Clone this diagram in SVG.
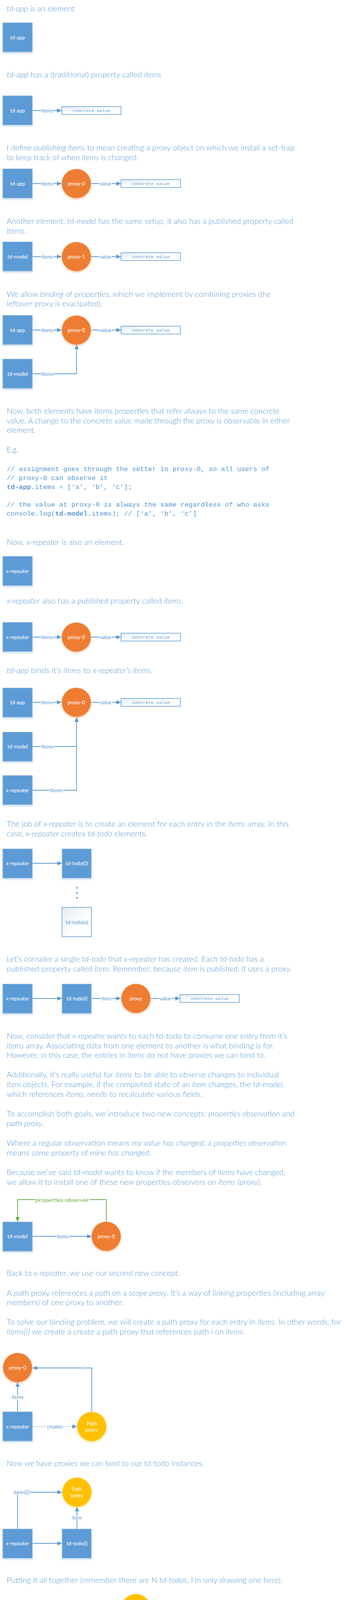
<svg xmlns="http://www.w3.org/2000/svg" width="886" height="4522" viewBox="0 0 886 4522">
<style>
.p{font-family:Lato,"Liberation Sans",sans-serif;font-weight:300;font-size:19px;fill:#5b9bd5}
.i{font-style:italic}
.code{font-family:"Liberation Mono",monospace;font-size:17.25px;fill:#5b9bd5}
.b{font-weight:bold}
.box{fill:#5b9bd5;stroke:#b4cbe6;stroke-width:1;filter:url(#sb)}
.px{fill:#ed7d31;stroke:#f4c4a4;stroke-width:1;filter:url(#so)}
.pp{fill:#ffc000;stroke:#ffe08a;stroke-width:1;filter:url(#sy)}
.cv{fill:url(#gv);stroke:#5b9bd5;stroke-width:1.5}
.tn{fill:url(#gn);stroke:#5b9bd5;stroke-width:1.5}
.n{font-family:Lato,"Liberation Sans",sans-serif;font-size:13px;fill:#fff;text-anchor:middle;dominant-baseline:central}
.nb{fill:#5b9bd5}
.m{font-family:"Liberation Mono",monospace;font-size:11.5px;fill:#5b9bd5;text-anchor:middle;dominant-baseline:central}
.c{fill:none;stroke:#5b9bd5;stroke-width:1.9}
.g{stroke:#70ad47}
.d{stroke-dasharray:2 4}
.l{font-family:Lato,"Liberation Sans",sans-serif;font-size:12.5px;fill:#5b9bd5;text-anchor:middle;dominant-baseline:central;stroke:#fff;stroke-width:4;paint-order:stroke}
.lg{fill:#70ad47;font-size:14px}
</style>
<defs>
<filter id="sb" x="-20%" y="-20%" width="140%" height="150%"><feDropShadow dx="0" dy="3" stdDeviation="2" flood-color="#9dc3e6" flood-opacity="0.6"/></filter>
<filter id="so" x="-20%" y="-20%" width="140%" height="150%"><feDropShadow dx="0" dy="3" stdDeviation="2" flood-color="#f4b183" flood-opacity="0.6"/></filter>
<filter id="sy" x="-20%" y="-20%" width="140%" height="150%"><feDropShadow dx="0" dy="3" stdDeviation="2" flood-color="#ffd966" flood-opacity="0.6"/></filter>
<linearGradient id="gv" x1="0" y1="0" x2="1" y2="1"><stop offset="0" stop-color="#e4ebf5"/><stop offset="0.5" stop-color="#ffffff"/></linearGradient>
<linearGradient id="gn" x1="0" y1="0" x2="1" y2="1"><stop offset="0" stop-color="#e4ebf5"/><stop offset="0.6" stop-color="#ffffff"/></linearGradient>
<marker id="ab" viewBox="0 0 12 11" markerWidth="12" markerHeight="11" refX="12" refY="5.5" orient="auto" markerUnits="userSpaceOnUse"><path d="M0,0L12,5.5L0,11z" fill="#5b9bd5"/></marker>
<marker id="ag" viewBox="0 0 12 11" markerWidth="12" markerHeight="11" refX="12" refY="5.5" orient="auto" markerUnits="userSpaceOnUse"><path d="M0,0L12,5.5L0,11z" fill="#70ad47"/></marker>
</defs>

<g id="text">
<text class="p" x="17" y="29" textLength="174" lengthAdjust="spacingAndGlyphs"><tspan class="i">td-app</tspan> is an element</text>
<text class="p" x="17" y="198" textLength="396" lengthAdjust="spacingAndGlyphs"><tspan class="i">td-app</tspan> has a (traditional) property called <tspan class="i">items</tspan></text>
<text class="p" x="17" y="385" textLength="737" lengthAdjust="spacingAndGlyphs">I define <tspan class="i">publishing items</tspan> to mean creating a proxy object on which we install a set-trap</text>
<text class="p" x="17" y="410" textLength="337" lengthAdjust="spacingAndGlyphs">to keep track of when <tspan class="i">items</tspan> is changed.</text>
<text class="p" x="17" y="573" textLength="734" lengthAdjust="spacingAndGlyphs">Another element, <tspan class="i">td-model</tspan> has the same setup, it also has a published property called</text>
<text class="p" x="17" y="598" textLength="50" lengthAdjust="spacingAndGlyphs"><tspan class="i">items</tspan>.</text>
<text class="p" x="17" y="760" textLength="677" lengthAdjust="spacingAndGlyphs">We allow <tspan class="i">binding</tspan> of properties, which we implement by combining proxies (the</text>
<text class="p" x="17" y="784" textLength="245" lengthAdjust="spacingAndGlyphs">leftover proxy is evacipated).</text>
<text class="p" x="17" y="1059" textLength="699" lengthAdjust="spacingAndGlyphs">Now, both elements have items properties that refer always to the same concrete</text>
<text class="p" x="17" y="1084" textLength="725" lengthAdjust="spacingAndGlyphs">value. A change to the concrete value made through the proxy is observable in either</text>
<text class="p" x="17" y="1108" textLength="74" lengthAdjust="spacingAndGlyphs">element.</text>
<text class="p" x="17" y="1158" textLength="29" lengthAdjust="spacingAndGlyphs">E.g.</text>
<text class="code" x="17" y="1206">// assignment goes through the setter in proxy-0, so all users of</text>
<text class="code" x="17" y="1229">// proxy-0 can observe it</text>
<text class="code" x="17" y="1252"><tspan class="b">td-app.</tspan>items = [‘a’, ‘b’, ‘c’];</text>
<text class="code" x="17" y="1297">// the value at proxy-0 is always the same regardless of who asks</text>
<text class="code" x="17" y="1320">console.log(<tspan class="b">td-model.</tspan>items); // [‘a’, ‘b’, ‘c’]</text>
<text class="p" x="17" y="1395" textLength="300" lengthAdjust="spacingAndGlyphs">Now, <tspan class="i">x-repeater</tspan> is also an element.</text>
<text class="p" x="17" y="1545" textLength="452" lengthAdjust="spacingAndGlyphs"><tspan class="i">x-repeater</tspan> also has a <tspan class="i">published</tspan> property called <tspan class="i">items</tspan>.</text>
<text class="p" x="17" y="1723" textLength="373" lengthAdjust="spacingAndGlyphs"><tspan class="i">td-app</tspan> binds it’s <tspan class="i">items</tspan> to <tspan class="i">x-repeater’s items</tspan>.</text>
<text class="p" x="17" y="2116" textLength="722" lengthAdjust="spacingAndGlyphs">The job of <tspan class="i">x-repeater</tspan> is to create an element for each entry in the <tspan class="i">items</tspan> array. In this</text>
<text class="p" x="17" y="2141" textLength="360" lengthAdjust="spacingAndGlyphs">case, <tspan class="i">x-repeater</tspan> creates <tspan class="i">td-todo</tspan> elements.</text>
<text class="p" x="17" y="2462" textLength="658" lengthAdjust="spacingAndGlyphs">Let’s consider a single <tspan class="i">td-todo</tspan> that <tspan class="i">x-repeater</tspan> has created. Each <tspan class="i">td-todo</tspan> has a</text>
<text class="p" x="17" y="2487" textLength="730" lengthAdjust="spacingAndGlyphs">published property called <tspan class="i">item</tspan>. Remember, because <tspan class="i">item</tspan> is <tspan class="i">published</tspan>, it uses a proxy.</text>
<text class="p" x="17" y="2659" textLength="718" lengthAdjust="spacingAndGlyphs">Now, consider that <tspan class="i">x-repeater</tspan> wants to each td-todo to consume one entry from it’s</text>
<text class="p" x="17" y="2684" textLength="685" lengthAdjust="spacingAndGlyphs"><tspan class="i">items</tspan> array. Associating data from one element to another is what binding is for.</text>
<text class="p" x="17" y="2708" textLength="663" lengthAdjust="spacingAndGlyphs">However, in this case, the entries in <tspan class="i">items</tspan> do not have proxies we can bind to.</text>
<text class="p" x="17" y="2758" textLength="697" lengthAdjust="spacingAndGlyphs">Additionally, it’s really useful for <tspan class="i">items</tspan> to be able to observe changes to individual</text>
<text class="p" x="17" y="2783" textLength="710" lengthAdjust="spacingAndGlyphs"><tspan class="i">item</tspan> objects. For example, if the completed state of an <tspan class="i">item</tspan> changes, the <tspan class="i">td-model</tspan>,</text>
<text class="p" x="17" y="2808" textLength="501" lengthAdjust="spacingAndGlyphs">which references <tspan class="i">items</tspan>, needs to recalculate various fields.</text>
<text class="p" x="17" y="2858" textLength="737" lengthAdjust="spacingAndGlyphs">To accomplish both goals, we introduce two new concepts: <tspan class="i">properties observation</tspan> and</text>
<text class="p" x="17" y="2883" textLength="96" lengthAdjust="spacingAndGlyphs"><tspan class="i">path proxy</tspan>.</text>
<text class="p" x="17" y="2933" textLength="716" lengthAdjust="spacingAndGlyphs">Where a regular observation means <tspan class="i">my value has changed</tspan>, a <tspan class="i">properties observation</tspan></text>
<text class="p" x="17" y="2958" textLength="370" lengthAdjust="spacingAndGlyphs">means <tspan class="i">some property of mine has changed</tspan>.</text>
<text class="p" x="17" y="3008" textLength="713" lengthAdjust="spacingAndGlyphs">Because we’ve said <tspan class="i">td-model</tspan> wants to know if the members of <tspan class="i">items</tspan> have changed,</text>
<text class="p" x="17" y="3033" textLength="653" lengthAdjust="spacingAndGlyphs">we allow it to install one of these new properties observers on <tspan class="i">items</tspan> (proxy).</text>
<text class="p" x="17" y="3266" textLength="443" lengthAdjust="spacingAndGlyphs">Back to <tspan class="i">x-repeater</tspan>, we use our second new concept.</text>
<text class="p" x="17" y="3317" textLength="814" lengthAdjust="spacingAndGlyphs">A path proxy references a <tspan class="i">path</tspan> on a <tspan class="i">scope proxy</tspan>. It’s a way of linking properties (including array</text>
<text class="p" x="17" y="3341" textLength="299" lengthAdjust="spacingAndGlyphs">members) of one proxy to another.</text>
<text class="p" x="17" y="3391" textLength="856" lengthAdjust="spacingAndGlyphs">To solve our binding problem, we will create a path proxy for each entry in <tspan class="i">items</tspan>. In other words, for</text>
<text class="p" x="17" y="3416" textLength="610" lengthAdjust="spacingAndGlyphs"><tspan class="i">items[i]</tspan> we create a create a path proxy that references path <tspan class="i">i</tspan> on <tspan class="i">items</tspan>.</text>
<text class="p" x="17" y="3753" textLength="505" lengthAdjust="spacingAndGlyphs">Now we have proxies we can bind to our td-todo instances.</text>
<text class="p" x="17" y="4052" textLength="706" lengthAdjust="spacingAndGlyphs">Putting it all together (remember there are N <tspan class="i">td-todo</tspan>s, I’m only drawing one here).</text>
<text class="p" x="17" y="4427" textLength="850" lengthAdjust="spacingAndGlyphs">Remember that <tspan class="i">Path proxy</tspan> derives from <tspan class="i">proxy-0</tspan> (<tspan class="i">proxy-0</tspan> is it’s scope). We simply define a rule such</text>
<text class="p" x="17" y="4452" textLength="757" lengthAdjust="spacingAndGlyphs">that when a Path proxy is observes a change, it triggers <tspan class="i">properties observers</tspan> in it’s scope.</text>
<text class="p" x="17" y="4503" textLength="866" lengthAdjust="spacingAndGlyphs">Now we have the ability for <tspan class="i">td-model</tspan> to observe changes in individual items that we were looking for.</text>
</g>

<g id="connectors">
<path class="c" d="M83,283H158" marker-end="url(#ab)"/>
<path class="c" d="M83,470H158" marker-end="url(#ab)"/>
<path class="c" d="M233,470H310" marker-end="url(#ab)"/>
<path class="c" d="M83,657H158" marker-end="url(#ab)"/>
<path class="c" d="M233,657H310" marker-end="url(#ab)"/>
<path class="c" d="M83,845H158" marker-end="url(#ab)"/>
<path class="c" d="M233,845H310" marker-end="url(#ab)"/>
<path class="c" d="M83,957H196V882" marker-end="url(#ab)"/>
<path class="c" d="M83,1631H158" marker-end="url(#ab)"/>
<path class="c" d="M233,1631H310" marker-end="url(#ab)"/>
<path class="c" d="M83,1798H158" marker-end="url(#ab)"/>
<path class="c" d="M233,1798H310" marker-end="url(#ab)"/>
<path class="c" d="M83,1911H196"/>
<path class="c" d="M83,2023H196V1836" marker-end="url(#ab)"/>
<path class="c" d="M83,2210H159" marker-end="url(#ab)"/>
<path class="c" d="M83,2556H159" marker-end="url(#ab)"/>
<path class="c" d="M234,2556H310" marker-end="url(#ab)"/>
<path class="c" d="M386,2556H461" marker-end="url(#ab)"/>
<path class="c" d="M83,3165H235" marker-end="url(#ab)"/>
<path class="c g" d="M272,3128V3071H45V3128" marker-end="url(#ag)"/>
<path class="c" d="M45,3614V3538" marker-end="url(#ab)"/>
<path class="c" d="M235,3614V3502H83" marker-end="url(#ab)"/>
<path class="c d" d="M83,3652H197" marker-end="url(#ab)"/>
<path class="c" d="M45,3914V3820H159" marker-end="url(#ab)"/>
<path class="c" d="M197,3914V3857" marker-end="url(#ab)"/>
<path class="c" d="M83,3951H159" marker-end="url(#ab)"/>
<path class="c" d="M83,4269H159" marker-end="url(#ab)"/>
<path class="c" d="M310,4269H234" marker-end="url(#ab)"/>
<path class="c" d="M386,4269H462" marker-end="url(#ab)"/>
<path class="c" d="M310,4119H197V4231" marker-end="url(#ab)"/>
<path class="c" d="M499,4231V4119H386" marker-end="url(#ab)"/>
<path class="c d" d="M348,4231V4156" marker-end="url(#ab)"/>
<path class="c g" d="M197,4306V4363H45V4306" marker-end="url(#ag)"/>
<text class="l" x="121" y="283">items</text>
<text class="l" x="121" y="470">items</text>
<text class="l" x="270" y="470">value</text>
<text class="l" x="121" y="657">items</text>
<text class="l" x="270" y="657">value</text>
<text class="l" x="121" y="845">items</text>
<text class="l" x="270" y="845">value</text>
<text class="l" x="121" y="957">items</text>
<text class="l" x="121" y="1631">items</text>
<text class="l" x="270" y="1631">value</text>
<text class="l" x="121" y="1798">items</text>
<text class="l" x="270" y="1798">value</text>
<text class="l" x="121" y="1911">items</text>
<text class="l" x="144" y="2023">items</text>
<text class="l" x="273" y="2556">item</text>
<text class="l" x="423" y="2556">value</text>
<text class="l" x="160" y="3165">items</text>
<text class="l lg" x="159" y="3071" textLength="136" lengthAdjust="spacingAndGlyphs">properties observer</text>
<text class="l" x="45" y="3576">items</text>
<text class="l" x="217" y="3502">i</text>
<text class="l" x="140" y="3652">creates</text>
<text class="l" x="55" y="3820">items[i]</text>
<text class="l" x="197" y="3885">item</text>
<text class="l" x="121" y="4269">items</text>
<text class="l" x="272" y="4269">items</text>
<text class="l" x="197" y="4119">i</text>
<text class="l" x="499" y="4119">item</text>
<text class="l" x="348" y="4194">creates</text>
<text class="l lg" x="121" y="4363" textLength="135" lengthAdjust="spacingAndGlyphs">properties observer</text>
</g>

<g id="n1-td-app"><rect class="box" x="7" y="58" width="76" height="75"/><text class="n" x="45" y="96">td-app</text></g>

<g id="n2-td-app"><rect class="box" x="7" y="245" width="76" height="75"/><text class="n" x="45" y="283">td-app</text></g>
<g id="n2-value"><rect class="cv" x="158" y="273" width="152" height="20"/><text class="m" x="234" y="283">concrete value</text></g>

<g id="n3-td-app"><rect class="box" x="7" y="432" width="76" height="75"/><text class="n" x="45" y="470">td-app</text></g>
<g id="n3-proxy0"><circle class="px" cx="195.5" cy="470" r="37.5"/><text class="n" x="195.5" y="470">proxy-0</text></g>
<g id="n3-value"><rect class="cv" x="310" y="460" width="152" height="20"/><text class="m" x="386" y="470">concrete value</text></g>

<g id="n4-td-model"><rect class="box" x="7" y="619" width="76" height="75"/><text class="n" x="45" y="657">td-model</text></g>
<g id="n4-proxy1"><circle class="px" cx="195.5" cy="657" r="37.5"/><text class="n" x="195.5" y="657">proxy-1</text></g>
<g id="n4-value"><rect class="cv" x="310" y="647" width="152" height="20"/><text class="m" x="386" y="657">concrete value</text></g>

<g id="n5-td-app"><rect class="box" x="7" y="807" width="76" height="75"/><text class="n" x="45" y="845">td-app</text></g>
<g id="n5-proxy0"><circle class="px" cx="195.5" cy="845" r="37.5"/><text class="n" x="195.5" y="845">proxy-0</text></g>
<g id="n5-value"><rect class="cv" x="310" y="835" width="152" height="20"/><text class="m" x="386" y="845">concrete value</text></g>
<g id="n5-td-model"><rect class="box" x="7" y="919" width="76" height="75"/><text class="n" x="45" y="957">td-model</text></g>

<g id="n6-x-repeater"><rect class="box" x="7" y="1424" width="76" height="75"/><text class="n" x="45" y="1462">x-repeater</text></g>

<g id="n7-x-repeater"><rect class="box" x="7" y="1593" width="76" height="75"/><text class="n" x="45" y="1631">x-repeater</text></g>
<g id="n7-proxy0"><circle class="px" cx="195.5" cy="1631" r="37.5"/><text class="n" x="195.5" y="1631">proxy-0</text></g>
<g id="n7-value"><rect class="cv" x="310" y="1621" width="152" height="20"/><text class="m" x="386" y="1631">concrete value</text></g>

<g id="n8-td-app"><rect class="box" x="7" y="1761" width="76" height="75"/><text class="n" x="45" y="1798">td-app</text></g>
<g id="n8-proxy0"><circle class="px" cx="195.5" cy="1798" r="37.5"/><text class="n" x="195.5" y="1798">proxy-0</text></g>
<g id="n8-value"><rect class="cv" x="310" y="1788" width="152" height="20"/><text class="m" x="386" y="1798">concrete value</text></g>
<g id="n8-td-model"><rect class="box" x="7" y="1874" width="76" height="75"/><text class="n" x="45" y="1911">td-model</text></g>
<g id="n8-x-repeater"><rect class="box" x="7" y="1985" width="76" height="75"/><text class="n" x="45" y="2023">x-repeater</text></g>

<g id="n9-x-repeater"><rect class="box" x="7" y="2173" width="76" height="75"/><text class="n" x="45" y="2210">x-repeater</text></g>
<g id="n9-td-todo0"><rect class="box" x="159" y="2173" width="75" height="75"/><text class="n" x="197" y="2210">td-todo(0)</text></g>
<g id="n9-dots" fill="#5b9bd5"><circle cx="197" cy="2273" r="2.2"/><circle cx="197" cy="2286" r="2.2"/><circle cx="197" cy="2298" r="2.2"/></g>
<g id="n9-td-todon"><rect class="tn" x="159" y="2323" width="75" height="75"/><text class="n nb" x="197" y="2361">td-todo(n)</text></g>

<g id="n10-x-repeater"><rect class="box" x="7" y="2519" width="76" height="75"/><text class="n" x="45" y="2556">x-repeater</text></g>
<g id="n10-td-todoi"><rect class="box" x="159" y="2519" width="75" height="75"/><text class="n" x="197" y="2556">td-todo(i)</text></g>
<g id="n10-proxy"><circle class="px" cx="348" cy="2556" r="37.5"/><text class="n" x="348" y="2556">proxy</text></g>
<g id="n10-value"><rect class="cv" x="461" y="2546" width="152" height="20"/><text class="m" x="537" y="2556">concrete value</text></g>

<g id="n11-td-model"><rect class="box" x="7" y="3128" width="76" height="75"/><text class="n" x="45" y="3165">td-model</text></g>
<g id="n11-proxy0"><circle class="px" cx="272" cy="3165" r="37.5"/><text class="n" x="272" y="3165">proxy-0</text></g>

<g id="n12-proxy0"><circle class="px" cx="45" cy="3501" r="37.5"/><text class="n" x="45" y="3501">proxy-0</text></g>
<g id="n12-x-repeater"><rect class="box" x="7" y="3614" width="76" height="75"/><text class="n" x="45" y="3652">x-repeater</text></g>
<g id="n12-path-proxy"><circle class="pp" cx="235" cy="3652" r="37.5"/><text class="n" x="235" y="3644">Path</text><text class="n" x="235" y="3660">proxy</text></g>

<g id="n13-path-proxy"><circle class="pp" cx="197" cy="3820" r="37.5"/><text class="n" x="197" y="3812">Path</text><text class="n" x="197" y="3828">proxy</text></g>
<g id="n13-x-repeater"><rect class="box" x="7" y="3914" width="76" height="75"/><text class="n" x="45" y="3951">x-repeater</text></g>
<g id="n13-td-todoi"><rect class="box" x="159" y="3914" width="75" height="75"/><text class="n" x="197" y="3951">td-todo(i)</text></g>

<g id="n14-path-proxy"><circle class="pp" cx="348" cy="4118" r="37.5"/><text class="n" x="348" y="4110">Path</text><text class="n" x="348" y="4126">proxy</text></g>
<g id="n14-td-model"><rect class="box" x="7" y="4231" width="76" height="75"/><text class="n" x="45" y="4269">td-model</text></g>
<g id="n14-proxy0"><circle class="px" cx="197" cy="4269" r="37.5"/><text class="n" x="197" y="4269">proxy-0</text></g>
<g id="n14-x-repeater"><rect class="box" x="310" y="4231" width="76" height="75"/><text class="n" x="348" y="4269">x-repeater</text></g>
<g id="n14-td-todoi"><rect class="box" x="462" y="4231" width="75" height="75"/><text class="n" x="499" y="4269">td-todo(i)</text></g>
</svg>
